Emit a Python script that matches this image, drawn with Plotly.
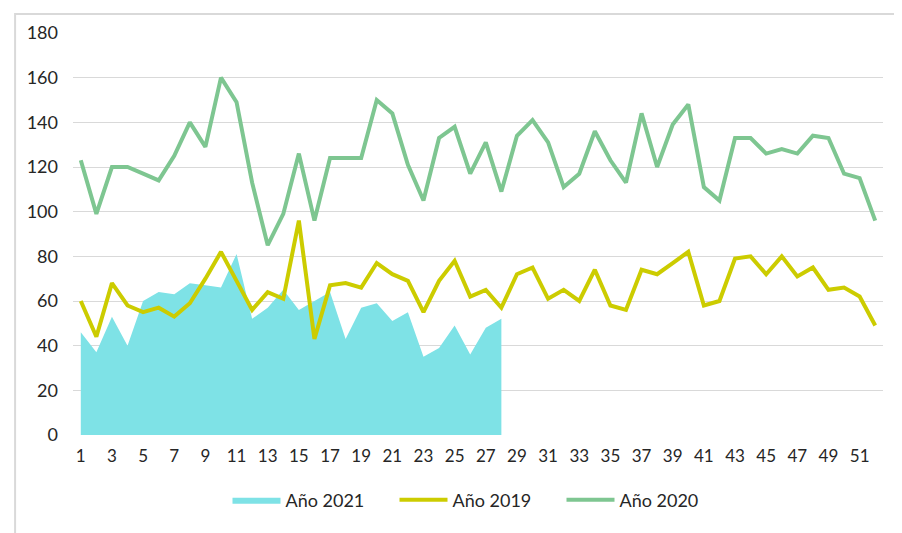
import plotly.graph_objects as go

weeks = list(range(1, 53))

anio_2021 = [46, 37, 53, 40, 60, 64, 63, 68, 67, 66, 81, 52, 57, 65, 56, 60, 64, 43, 57, 59,
             51, 55, 35, 39, 49, 36, 48, 52]

anio_2019 = [60, 44, 68, 58, 55, 57, 53, 59, 70, 82, 69, 56, 64, 61, 96, 43, 67, 68, 66, 77,
             72, 69, 55, 69, 78, 62, 65, 57, 72, 75, 61, 65, 60, 74, 58, 56, 74, 72, 77, 82,
             58, 60, 79, 80, 72, 80, 71, 75, 65, 66, 62, 49]

anio_2020 = [123, 99, 120, 120, 117, 114, 125, 140, 129, 160, 149, 113, 85, 99, 126, 96, 124, 124, 124, 150,
             144, 121, 105, 133, 138, 117, 131, 109, 134, 141, 131, 111, 117, 136, 123, 113, 144, 120, 139, 148,
             111, 105, 133, 133, 126, 128, 126, 134, 133, 117, 115, 96]

x_ticks = list(range(1, 52, 2))
y_ticks = list(range(0, 181, 20))

FONT = "Lato, 'Open Sans', sans-serif"

fig = go.Figure()
fig.add_trace(go.Scatter(
    x=weeks[:len(anio_2021)], y=anio_2021, name="Año 2021",
    mode="lines", fill="tozeroy", fillcolor="#7EE2E6",
    line=dict(width=0, color="#7EE2E6"),
))
fig.add_trace(go.Scatter(
    x=weeks, y=anio_2019, name="Año 2019", mode="lines",
    line=dict(width=4, color="#CCCC00"),
))
fig.add_trace(go.Scatter(
    x=weeks, y=anio_2020, name="Año 2020", mode="lines",
    line=dict(width=4, color="#7EC691"),
))

fig.update_layout(
    width=902, height=533,
    margin=dict(l=65, r=27, t=25, b=106),
    paper_bgcolor="white", plot_bgcolor="white",
    font=dict(family=FONT, size=18, color="#262626"),
    showlegend=True,
    legend=dict(orientation="h", x=0.5, xanchor="center", y=-0.162, yanchor="middle",
                itemwidth=48, entrywidth=104, entrywidthmode="pixels",
                font=dict(size=18), traceorder="normal"),
    xaxis=dict(range=[0.5, 52.5], tickmode="array", tickvals=x_ticks,
               ticktext=[str(t) for t in x_ticks], showgrid=False, zeroline=False,
               showline=False, ticks="", ticklabelstandoff=9, tickfont=dict(size=17)),
    yaxis=dict(range=[0, 180], tickmode="array", tickvals=y_ticks,
               showgrid=True, gridcolor="#D9D9D9", gridwidth=1, zeroline=False,
               showline=False, ticks="", ticklabelstandoff=14, tickfont=dict(size=18)),
    shapes=[dict(type="rect", xref="paper", yref="paper",
                 x0=-0.0715, x1=1.2, y0=-0.4, y1=1.047,
                 line=dict(color="#D9D9D9", width=2), layer="below")],
)

fig.write_html("out.html")
